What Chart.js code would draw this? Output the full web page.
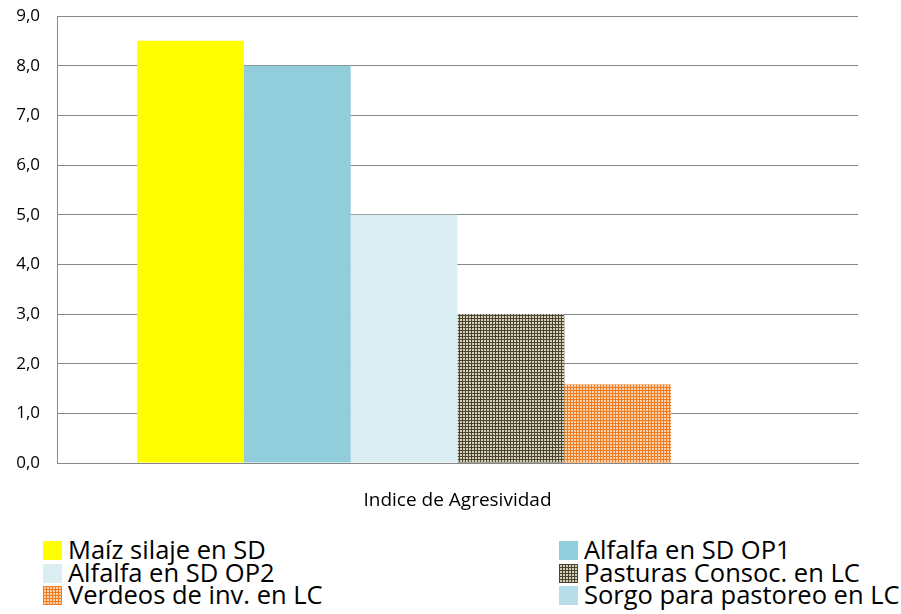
<!DOCTYPE html>
<html>
<head>
<meta charset="utf-8">
<script src="https://cdn.jsdelivr.net/npm/chart.js@4.4.0/dist/chart.umd.min.js"></script>
<style>
  body { margin: 0; background: #fff; font-family: "Open Sans", sans-serif; }
  #wrap { position: relative; width: 901px; height: 515px; }
  #legend { position: absolute; top: 538px; left: 0; width: 901px; }
  .item { position: absolute; font-size: 25.5px; line-height: 23px; color: #000; white-space: nowrap; }
  .item span.box { display: inline-block; width: 19px; height: 19px; vertical-align: -1px; margin-right: 6px; }
</style>
</head>
<body>
<div id="wrap"><canvas id="myChart" width="901" height="515"></canvas></div>
<div id="legend"></div>
<script>
const categories = ['Indice de Agresividad'];
const seriesNames = ['Maíz silaje en SD', 'Alfalfa en SD OP1', 'Alfalfa en SD OP2',
                     'Pasturas Consoc. en LC', 'Verdeos de inv. en LC', 'Sorgo para pastoreo en LC'];
const seriesValues = [8.5, 8.0, 5.0, 3.0, 1.58, 0];
const yTicks = [0, 1, 2, 3, 4, 5, 6, 7, 8, 9];

function gridPattern(bg, line) {
    const c = document.createElement('canvas');
    c.width = 3; c.height = 3;
    const g = c.getContext('2d');
    g.fillStyle = bg;
    g.fillRect(0, 0, 3, 3);
    g.fillStyle = line;
    g.fillRect(0, 0, 3, 1);
    g.fillRect(0, 0, 1, 3);
    return g.createPattern(c, 'repeat');
}

const colors = [
    '#ffff00',
    '#92cddc',
    '#dbeef4',
    gridPattern('#d6cfb8', '#4a4433'),
    gridPattern('#f9d2ae', '#f07a1e'),
    '#b7dde8'
];

const ctx = document.getElementById('myChart').getContext('2d');
const myChart = new Chart(ctx, {
    type: 'bar',
    data: {
        labels: categories,
        datasets: seriesNames.map((name, i) => ({
            label: name,
            data: [seriesValues[i]],
            backgroundColor: colors[i],
            borderWidth: 0,
            categoryPercentage: 0.8,
            barPercentage: 1.0
        }))
    },
    options: {
        responsive: false,
        animation: false,
        layout: { padding: { top: 16, right: 43, left: 0, bottom: 0 } },
        plugins: { legend: { display: false }, tooltip: { enabled: false } },
        scales: {
            x: {
                grid: { display: false },
                border: { color: '#868686', width: 1 },
                ticks: { color: '#000', padding: 18, font: { family: 'Open Sans', size: 19 } },
                afterFit: (s) => { s.height = 52; s.paddingLeft = 0; s.paddingRight = 0; }
            },
            y: {
                min: 0, max: 9,
                afterBuildTicks: (s) => { s.ticks = yTicks.map(v => ({ value: v })); },
                grid: { color: '#868686', drawTicks: false },
                border: { color: '#868686', width: 1 },
                ticks: {
                    color: '#000', padding: 17,
                    font: { family: 'Open Sans', size: 17 },
                    callback: (v) => v.toFixed(1).replace('.', ',')
                },
                afterFit: (s) => { s.width = 57; s.paddingTop = 0; s.paddingBottom = 0; }
            }
        }
    }
});

// legend in two columns, like the original
const legend = document.getElementById('legend');
const leftX = 43, rightX = 559;
seriesNames.forEach((name, i) => {
    const col = i % 2, row = Math.floor(i / 2);
    const div = document.createElement('div');
    div.className = 'item';
    div.style.left = (col ? rightX : leftX) + 'px';
    div.style.top = (row * 22.5) + 'px';
    const box = document.createElement('span');
    box.className = 'box';
    const c = colors[i];
    if (typeof c === 'string') {
        box.style.background = c;
    } else {
        box.style.background = i === 3
            ? 'repeating-linear-gradient(0deg,#4a4433 0 1px,transparent 1px 3px),repeating-linear-gradient(90deg,#4a4433 0 1px,#d6cfb8 1px 3px)'
            : 'repeating-linear-gradient(0deg,#f07a1e 0 1px,transparent 1px 3px),repeating-linear-gradient(90deg,#f07a1e 0 1px,#f9d2ae 1px 3px)';
    }
    div.appendChild(box);
    div.appendChild(document.createTextNode(name));
    legend.appendChild(div);
});
</script>
</body>
</html>
